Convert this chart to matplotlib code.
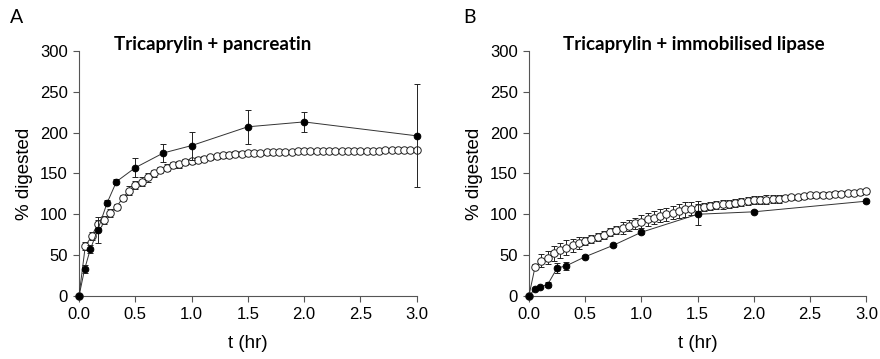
import matplotlib
matplotlib.use('Agg')
import matplotlib.pyplot as plt
import numpy as np

plt.rcParams['font.family'] = ['Liberation Sans', 'DejaVu Sans']

# sampling of the continuous (open circle) series: every 200 s
tOpen = [i / 18 for i in range(55)]
# discrete samples (filled circles)
tFilled = [0, 0.05, 0.1, 0.167, 0.25, 0.333, 0.5, 0.75, 1.0, 1.5, 2.0, 3.0]

# panel A: tricaprylin + pancreatin
openA = [0, 61, 73, 88, 93, 102, 109, 120, 129, 136, 140, 145, 150, 154, 157, 160, 161, 164,
         165, 167, 168, 170, 171, 172, 173, 174, 174, 175,
         175, 175, 176, 176, 176, 176, 176, 177, 177, 177, 177, 177, 177, 178, 178, 178, 178, 178,
         178, 178, 178, 179, 179, 179, 179, 179, 179]
openAerr = [0, 5, 5, 5, 5, 5, 4, 4, 5, 5, 5, 5, 4, 4, 4, 4, 4, 4,
            3, 3, 3, 3, 3, 3, 3, 3, 3, 3,
            3, 3, 3, 2, 2, 2, 2, 2, 2, 2, 2, 2, 2, 2, 2, 2, 2, 2,
            2, 2, 2, 2, 2, 2, 2, 2, 2]
filledA = [0, 33, 57, 81, 114, 140, 157, 175, 184, 207, 213, 196]
filledAerr = [0, 5, 5, 16, 3, 3, 12, 11, 17, 21, 12, 63]

# panel B: tricaprylin + immobilised lipase
openB = [0, 36, 43, 47, 52, 56, 59, 62, 65, 67, 70, 72, 75, 78, 81, 83, 86, 89,
         91, 94, 96, 98, 100, 102, 104, 106, 107, 108,
         109, 110, 111, 112, 113, 114, 115, 116, 117, 117, 118, 119, 119, 120, 121, 121, 122, 123,
         123, 124, 124, 125, 125, 126, 126, 127, 128]
openBerr = [0, 3, 8, 8, 9, 9, 9, 8, 7, 5, 5, 5, 5, 5, 5, 7, 7, 7,
            8, 8, 8, 8, 8, 8, 9, 9, 8, 8,
            5, 5, 5, 5, 5, 5, 5, 5, 5, 5, 5, 5, 5, 3, 3, 3, 3, 3,
            3, 3, 3, 3, 3, 3, 3, 3, 3]
filledB = [0, 8, 11, 14, 34, 37, 48, 62, 78, 100, 103, 116]
filledBerr = [0, 1, 1, 3, 6, 5, 2, 2, 2, 13, 2, 2]

panelLetters = ['A', 'B']
titles = ['Tricaprylin + pancreatin', 'Tricaprylin + immobilised lipase']
xticks = [0.0, 0.5, 1.0, 1.5, 2.0, 2.5, 3.0]
yticks = [0, 50, 100, 150, 200, 250, 300]

fig = plt.figure(figsize=(8.8, 3.59), dpi=100)
axA = fig.add_axes([0.0898, 0.1755, 0.3835, 0.683])
axB = fig.add_axes([0.601, 0.1755, 0.3835, 0.683])

panels = [(axA, openA, openAerr, filledA, filledAerr), (axB, openB, openBerr, filledB, filledBerr)]
titleX = [0.395, 0.49]
letterX = [0.011, 0.526]

for k, (ax, yo, yoe, yf, yfe) in enumerate(panels):
    ax.errorbar(tOpen, yo, yerr=yoe, color='#333333', lw=0.7, marker='o', ms=5.4, mfc='white',
                mec='#222222', mew=0.7, ecolor='#222222', elinewidth=0.7, capsize=2.5, capthick=0.7,
                zorder=3, clip_on=False)
    ax.errorbar(tFilled, yf, yerr=yfe, color='#333333', lw=0.7, marker='o', ms=4.8, mfc='black',
                mec='black', mew=0.7, ecolor='#222222', elinewidth=0.7, capsize=2.5, capthick=0.7,
                zorder=4, clip_on=False)
    ax.set_xlim(0, 3.0)
    ax.set_ylim(0, 300)
    ax.set_xticks(xticks)
    ax.set_xticklabels(['%.1f' % v for v in xticks])
    ax.set_yticks(yticks)
    for s in ['top', 'right']:
        ax.spines[s].set_visible(False)
    for s in ['left', 'bottom']:
        ax.spines[s].set_color('#555555')
        ax.spines[s].set_linewidth(0.8)
    ax.tick_params(direction='out', length=4, width=0.8, color='#555555', labelsize=12, pad=4)
    ax.set_xlabel('t (hr)', fontsize=13.5, labelpad=9)
    ax.set_ylabel('% digested', fontsize=13.5)
    ax.yaxis.set_label_coords(-0.162, 0.5)
    ax.yaxis.label.set_va('center')
    ax.text(titleX[k], 1.025, titles[k], transform=ax.transAxes, ha='center', va='center',
            fontsize=13.5, fontweight='bold', family=['Lato', 'DejaVu Sans'])
    fig.text(letterX[k], 0.95, panelLetters[k], fontsize=14, va='center',
             family=['Lato', 'DejaVu Sans'])

fig.savefig('out.png', dpi=100)
